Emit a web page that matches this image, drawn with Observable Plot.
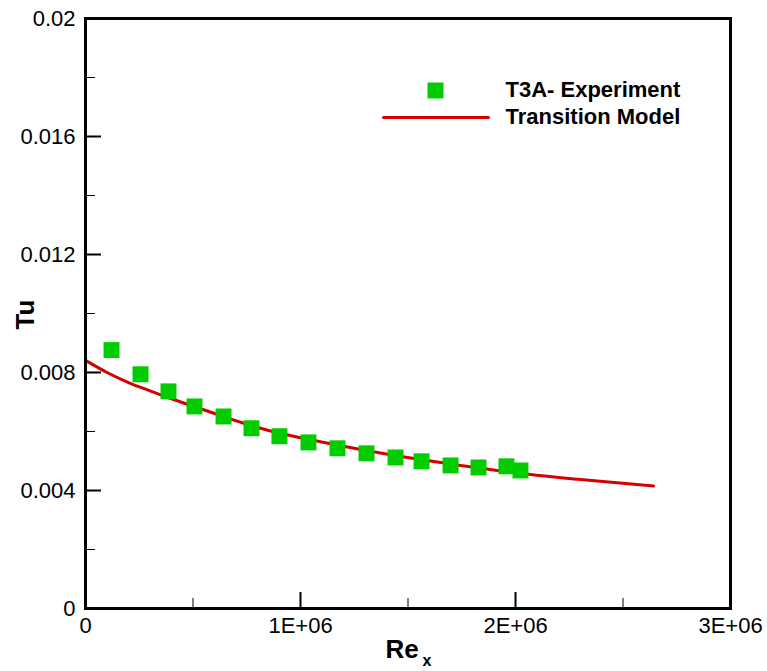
<!DOCTYPE html>
<html><head><meta charset="utf-8">
<script src="https://cdn.jsdelivr.net/npm/d3@7"></script>
<script src="https://cdn.jsdelivr.net/npm/@observablehq/plot@0.6"></script>
<style>body{margin:0;background:#fff;}</style>
</head><body><div id="chart"></div>
<script>
// Experimental data (T3A)
const expRe = [121000, 256000, 386000, 507000, 642000, 772000, 902000, 1037000, 1172000, 1307000, 1442000, 1563000, 1698000, 1828000, 1958000, 2023000];
const expTu = [0.00876, 0.00794, 0.00736, 0.00685, 0.00651, 0.00611, 0.00584, 0.00563, 0.00543, 0.00526, 0.00512, 0.00499, 0.00485, 0.00478, 0.00482, 0.00468];
// Transition model curve
const modelRe = [0, 100000, 200000, 300000, 400000, 500000, 600000, 735000, 865000, 1000000, 1116000, 1372000, 1744000, 1930000, 2302000, 2642000];
const modelTu = [0.00841, 0.00800, 0.00766, 0.00738, 0.00711, 0.00686, 0.00661, 0.00628, 0.00601, 0.00579, 0.00562, 0.00527, 0.00485, 0.00466, 0.00437, 0.00415];
// Ticks
const xTicks = [0, 1000000, 2000000, 3000000];
const xTickLabels = ["0", "1E+06", "2E+06", "3E+06"];
const xMinor = [500000, 1500000, 2500000];
const yTicks = [0, 0.004, 0.008, 0.012, 0.016, 0.02];
const yTickLabels = ["0", "0.004", "0.008", "0.012", "0.016", "0.02"];
const yMinor = [0.002, 0.006, 0.01, 0.014, 0.018];
const seriesNames = ["T3A- Experiment", "Transition Model"];

const expData = expRe.map((x, i) => ({x, y: expTu[i]}));
const modelData = modelRe.map((x, i) => ({x, y: modelTu[i]}));

const font = "'Liberation Sans', Arial, Helvetica, sans-serif";
const green = "#00cc00", red = "#d40000";

const chart = Plot.plot({
  width: 767, height: 671,
  marginLeft: 85, marginRight: 37, marginTop: 18, marginBottom: 63,
  style: {fontFamily: font, background: "#fff", color: "#000", overflow: "visible"},
  x: {domain: [0, 3000000]},
  y: {domain: [0, 0.02]},
  marks: [
    Plot.axisX({ticks: xTicks, tickSize: 0, tickPadding: 9, tickFormat: d => xTickLabels[xTicks.indexOf(d)], fontSize: 22, label: null}),
    Plot.axisY({ticks: yTicks, tickSize: 0, tickPadding: 10, tickFormat: d => yTickLabels[yTicks.indexOf(d)], fontSize: 22, label: null}),
    Plot.tickX(xTicks, {x: d => d, insetTop: 574, strokeWidth: 2, stroke: "#000"}),
    Plot.tickX(xMinor, {x: d => d, insetTop: 580, strokeWidth: 1, stroke: "#000"}),
    Plot.tickY(yTicks, {y: d => d, insetRight: 629, strokeWidth: 2, stroke: "#000"}),
    Plot.tickY(yMinor, {y: d => d, insetRight: 635, strokeWidth: 1, stroke: "#000"}),
    Plot.line(modelData, {x: "x", y: "y", stroke: red, strokeWidth: 3, curve: "monotone-x"}),
    Plot.dot(expData, {x: "x", y: "y", symbol: "square", r: 9, fill: green, stroke: null}),
    Plot.frame({strokeWidth: 3, stroke: "#000"}),
    // legend
    Plot.dot([seriesNames[0]], {frameAnchor: "top-left", dx: 350, dy: 72, symbol: "square", r: 9, fill: green, stroke: null}),
    Plot.vector([seriesNames[1]], {frameAnchor: "top-left", dx: 298, dy: 99, rotate: 90, length: 105, anchor: "start", stroke: red, strokeWidth: 3,
      shape: {draw(ctx, l) { ctx.moveTo(0, 0); ctx.lineTo(0, -l); }}}),
    Plot.text([seriesNames[0]], {text: d => d, frameAnchor: "top-left", dx: 420, dy: 78, textAnchor: "start", lineAnchor: "bottom", fontSize: 22, fontWeight: "bold"}),
    Plot.text([seriesNames[1]], {text: d => d, frameAnchor: "top-left", dx: 420, dy: 105, textAnchor: "start", lineAnchor: "bottom", fontSize: 22, fontWeight: "bold"}),
    // axis titles
    Plot.text(["Tu"], {text: d => d, frameAnchor: "left", dx: -52, dy: 1, rotate: -90, textAnchor: "middle", lineAnchor: "bottom", fontSize: 26, fontWeight: "bold"}),
    Plot.text(["Re"], {text: d => d, frameAnchor: "bottom", dx: -22.5, dy: 49, textAnchor: "start", lineAnchor: "bottom", fontSize: 26, fontWeight: "bold"}),
    Plot.text(["x"], {text: d => d, frameAnchor: "bottom", dx: 14.5, dy: 57, textAnchor: "start", lineAnchor: "bottom", fontSize: 16, fontWeight: "bold"})
  ]
});
document.getElementById("chart").appendChild(chart);
</script>
</body></html>
